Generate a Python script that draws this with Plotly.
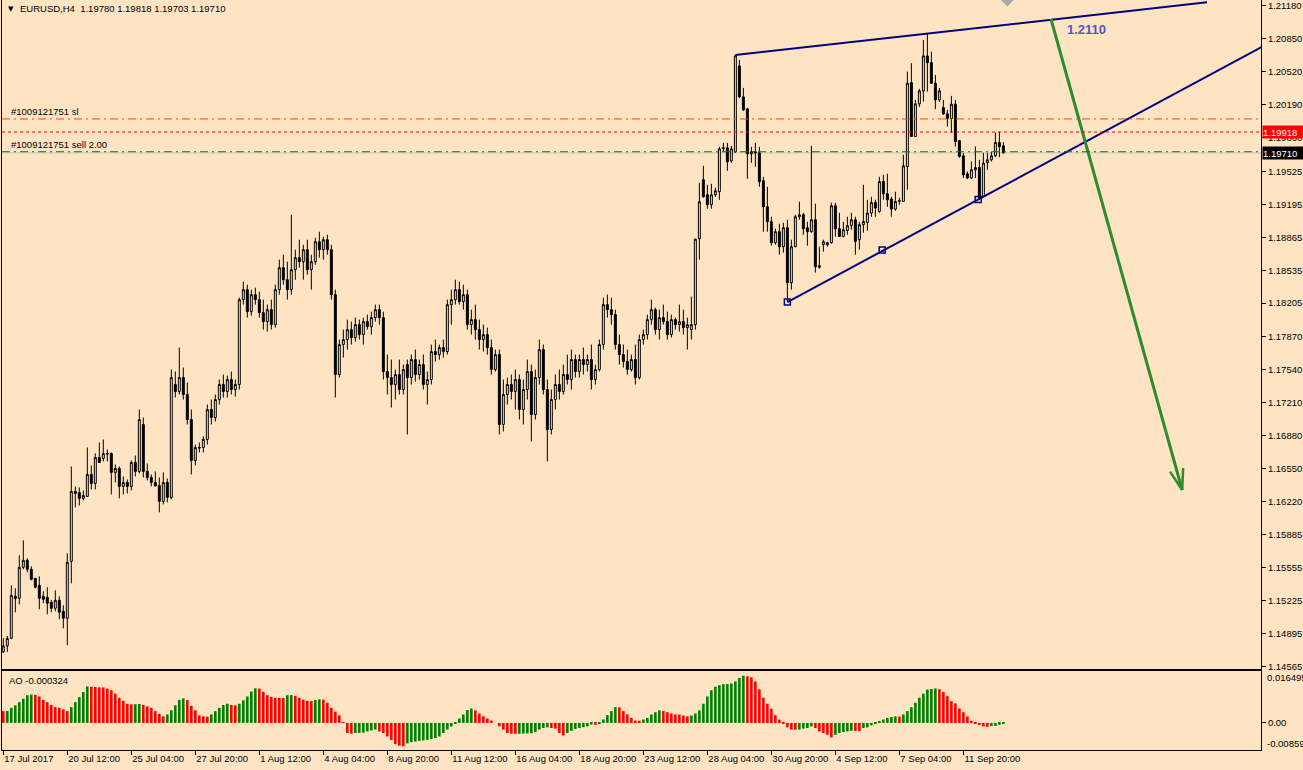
import math
import plotly.graph_objects as go

BG = "#FFE4C4"
FONT = "Liberation Sans"

# ---------------- data ----------------
bars = list(range(251))

open_ = [
1.14713,1.14773,1.14850,1.15270,1.15250,1.15560,1.15630,1.15540,1.15450,1.15380,
1.15270,1.15260,1.15210,1.15150,1.15230,1.15120,1.15050,1.15620,1.16320,1.16310,
1.16250,1.16270,1.16490,1.16400,1.16660,1.16650,1.16700,1.16700,1.16510,1.16550,
1.16370,1.16410,1.16370,1.16610,1.16520,1.16990,1.16520,1.16460,1.16410,1.16380,
1.16220,1.16410,1.16260,1.17390,1.17320,1.17460,1.17290,1.17040,1.16630,1.16760,
1.16760,1.16840,1.17140,1.17060,1.17240,1.17390,1.17320,1.17440,1.17340,1.17390,
1.18240,1.18340,1.18120,1.18290,1.18240,1.18110,1.18020,1.18140,1.17990,1.18340,
1.18560,1.18440,1.18340,1.18540,1.18660,1.18620,1.18740,1.18540,1.18620,1.18820,
1.18740,1.18840,1.18740,1.18290,1.17490,1.17790,1.17840,1.17940,1.17860,1.17990,
1.17890,1.18020,1.17970,1.18060,1.18140,1.18060,1.17520,1.17460,1.17390,1.17490,
1.17340,1.17590,1.17460,1.17640,1.17490,1.17590,1.17390,1.17440,1.17720,1.17690,
1.17760,1.17720,1.18190,1.18240,1.18340,1.18220,1.18290,1.17990,1.18040,1.17940,
1.17840,1.17890,1.17760,1.17540,1.17690,1.16990,1.17290,1.17390,1.17320,1.17440,
1.17140,1.17340,1.17520,1.17090,1.17460,1.17740,1.17340,1.16940,1.17240,1.17390,
1.17320,1.17490,1.17440,1.17640,1.17520,1.17640,1.17590,1.17640,1.17440,1.17540,
1.17790,1.18190,1.18140,1.18090,1.17790,1.17690,1.17620,1.17540,1.17640,1.17460,
1.17840,1.17890,1.18040,1.18140,1.17940,1.18060,1.18020,1.17890,1.18040,1.17990,
1.18020,1.17960,1.17940,1.17990,1.18850,1.19440,1.19290,1.19190,1.19290,1.19320,
1.19760,1.19760,1.19630,1.19720,1.20580,1.20270,1.20150,1.19700,1.19720,1.19710,
1.19430,1.19170,1.19020,1.18810,1.18920,1.18770,1.18960,1.18410,1.18770,1.19070,
1.19090,1.18960,1.18920,1.19040,1.18580,1.18790,1.18790,1.18810,1.19180,1.18950,
1.18873,1.18933,1.18980,1.19040,1.18840,1.18990,1.19013,1.19107,1.19213,1.19123,
1.19423,1.19300,1.19247,1.19147,1.19223,1.19223,1.19573,1.20413,1.19873,1.20200,
1.20330,1.20680,1.20613,1.20407,1.20240,1.20163,1.20100,1.20053,1.20197,1.19833,
1.19680,1.19500,1.19457,1.19540,1.19563,1.19273,1.19613,1.19640,1.19680,1.19813,
1.19780]

high = [
1.14850,1.14873,1.15380,1.15350,1.15680,1.15830,1.15650,1.15570,1.15453,1.15470,
1.15320,1.15360,1.15233,1.15330,1.15270,1.15180,1.15700,1.16570,1.16370,1.16360,
1.16330,1.16760,1.16580,1.16700,1.16810,1.16840,1.16740,1.16710,1.16590,1.16570,
1.16470,1.16440,1.16630,1.16680,1.17140,1.17060,1.16600,1.16490,1.16520,1.16460,
1.16510,1.16450,1.17540,1.17520,1.17760,1.17560,1.17410,1.17140,1.16790,1.16810,
1.16870,1.17190,1.17240,1.17290,1.17440,1.17490,1.17480,1.17520,1.17440,1.18260,
1.18420,1.18390,1.18340,1.18360,1.18320,1.18240,1.18190,1.18240,1.18390,1.18640,
1.18690,1.18620,1.19090,1.18740,1.18840,1.18790,1.18840,1.18690,1.18860,1.18920,
1.18870,1.18890,1.18790,1.18340,1.17840,1.17940,1.18040,1.18020,1.18060,1.18040,
1.18060,1.18090,1.18120,1.18190,1.18190,1.18120,1.17690,1.17640,1.17540,1.17640,
1.17590,1.17640,1.17690,1.17740,1.17640,1.17690,1.17520,1.17790,1.17840,1.17790,
1.17840,1.18240,1.18340,1.18440,1.18420,1.18390,1.18340,1.18140,1.18190,1.18040,
1.17990,1.17960,1.17840,1.17740,1.17740,1.17440,1.17460,1.17490,1.17540,1.17490,
1.17440,1.17640,1.17590,1.17540,1.17840,1.17790,1.17440,1.17340,1.17490,1.17540,
1.17590,1.17690,1.17740,1.17690,1.17690,1.17760,1.17690,1.17790,1.17590,1.17840,
1.18260,1.18290,1.18260,1.18140,1.17890,1.17790,1.17740,1.17690,1.17790,1.17890,
1.17940,1.18090,1.18240,1.18160,1.18140,1.18190,1.18120,1.18090,1.18060,1.18190,
1.18140,1.18060,1.18270,1.18850,1.19410,1.19580,1.19390,1.19400,1.19360,1.19770,
1.19810,1.19810,1.19780,1.20690,1.20640,1.20360,1.20160,1.19770,1.19810,1.19770,
1.19470,1.19370,1.19070,1.18950,1.19000,1.19010,1.19040,1.18840,1.19090,1.19220,
1.19110,1.19020,1.19780,1.19200,1.18770,1.18840,1.18820,1.19210,1.19210,1.19110,
1.19020,1.19070,1.19110,1.19070,1.19020,1.19390,1.19240,1.19270,1.19240,1.19470,
1.19490,1.19500,1.19270,1.19320,1.19260,1.19690,1.20523,1.20607,1.20240,1.20350,
1.20840,1.20907,1.20723,1.20490,1.20360,1.20240,1.20140,1.20280,1.20240,1.19840,
1.19707,1.19523,1.19623,1.19773,1.19640,1.19710,1.19710,1.19723,1.19913,1.19923,
1.19818]

low = [
1.14705,1.14713,1.14840,1.15110,1.15190,1.15540,1.15510,1.15430,1.15350,1.15140,
1.15200,1.15090,1.15110,1.15120,1.15040,1.14950,1.14780,1.15400,1.16160,1.16180,
1.16230,1.16265,1.16340,1.16340,1.16605,1.16620,1.16620,1.16290,1.16410,1.16250,
1.16290,1.16300,1.16330,1.16470,1.16500,1.16460,1.16430,1.16370,1.16370,1.16110,
1.16190,1.16210,1.16240,1.17260,1.17290,1.17240,1.16990,1.16490,1.16580,1.16710,
1.16710,1.16790,1.16990,1.17020,1.17190,1.17260,1.17260,1.17290,1.17270,1.17340,
1.18190,1.18060,1.18080,1.18190,1.18060,1.17940,1.17920,1.17940,1.17960,1.18290,
1.18390,1.18240,1.18290,1.18440,1.18560,1.18440,1.18490,1.18340,1.18590,1.18660,
1.18640,1.18690,1.18240,1.17260,1.17460,1.17660,1.17740,1.17790,1.17820,1.17840,
1.17790,1.17940,1.17890,1.18020,1.17990,1.17440,1.17290,1.17160,1.17240,1.17290,
1.17290,1.16890,1.17390,1.17420,1.17440,1.17340,1.17190,1.17390,1.17620,1.17640,
1.17660,1.17690,1.17990,1.18190,1.18190,1.18140,1.17940,1.17890,1.17840,1.17740,
1.17720,1.17690,1.17490,1.17520,1.16890,1.16920,1.17190,1.17240,1.17140,1.17040,
1.16990,1.17240,1.16820,1.17040,1.17390,1.17290,1.16620,1.16890,1.17140,1.17240,
1.17290,1.17390,1.17340,1.17460,1.17460,1.17490,1.17520,1.17340,1.17390,1.17520,
1.17740,1.18060,1.17990,1.17740,1.17590,1.17560,1.17490,1.17520,1.17390,1.17440,
1.17790,1.17840,1.17990,1.17890,1.17840,1.17990,1.17840,1.17860,1.17940,1.17920,
1.17890,1.17740,1.17840,1.17940,1.18640,1.19260,1.19150,1.19150,1.19270,1.19240,
1.19720,1.19530,1.19610,1.19710,1.20260,1.20130,1.19450,1.19610,1.19570,1.19370,
1.18920,1.18920,1.18780,1.18790,1.18690,1.18710,1.18220,1.18340,1.18765,1.19040,
1.18890,1.18780,1.18910,1.18510,1.18550,1.18720,1.18770,1.18800,1.18870,1.18870,
1.18865,1.18890,1.18940,1.18690,1.18740,1.18910,1.18930,1.19070,1.19070,1.19110,
1.19240,1.19170,1.19070,1.19130,1.19190,1.19220,1.19340,1.19870,1.19870,1.20170,
1.20223,1.20323,1.20400,1.20147,1.20220,1.20090,1.19973,1.19910,1.19773,1.19660,
1.19457,1.19447,1.19447,1.19457,1.19240,1.19270,1.19540,1.19623,1.19667,1.19667,
1.19703]

close = [
1.14773,1.14847,1.15280,1.15247,1.15560,1.15630,1.15540,1.15440,1.15360,1.15250,
1.15240,1.15200,1.15150,1.15230,1.15110,1.15050,1.15610,1.16320,1.16300,1.16250,
1.16280,1.16490,1.16400,1.16660,1.16610,1.16700,1.16695,1.16510,1.16550,1.16370,
1.16410,1.16370,1.16610,1.16520,1.17040,1.16520,1.16460,1.16410,1.16375,1.16220,
1.16410,1.16260,1.17460,1.17320,1.17460,1.17290,1.17040,1.16630,1.16760,1.16755,
1.16840,1.17140,1.17060,1.17240,1.17390,1.17320,1.17440,1.17340,1.17390,1.18240,
1.18340,1.18120,1.18290,1.18240,1.18110,1.18020,1.18140,1.17990,1.18340,1.18560,
1.18440,1.18340,1.18540,1.18660,1.18620,1.18740,1.18540,1.18620,1.18820,1.18740,
1.18840,1.18740,1.18290,1.17490,1.17790,1.17840,1.17940,1.17860,1.17990,1.17890,
1.18020,1.17970,1.18060,1.18140,1.18060,1.17520,1.17460,1.17390,1.17490,1.17340,
1.17540,1.17460,1.17640,1.17490,1.17590,1.17390,1.17440,1.17720,1.17690,1.17760,
1.17720,1.18190,1.18240,1.18340,1.18220,1.18290,1.17990,1.18040,1.17940,1.17840,
1.17890,1.17760,1.17540,1.17690,1.16990,1.17290,1.17390,1.17320,1.17440,1.17140,
1.17340,1.17520,1.17090,1.17460,1.17740,1.17340,1.16940,1.17240,1.17390,1.17320,
1.17490,1.17440,1.17640,1.17520,1.17640,1.17590,1.17640,1.17440,1.17540,1.17790,
1.18190,1.18140,1.18090,1.17790,1.17690,1.17620,1.17540,1.17640,1.17460,1.17840,
1.17890,1.18040,1.18140,1.17940,1.18060,1.18020,1.17890,1.18040,1.17990,1.18020,
1.17960,1.17990,1.17990,1.18845,1.19220,1.19270,1.19190,1.19290,1.19330,1.19750,
1.19755,1.19620,1.19750,1.20680,1.20270,1.20140,1.19700,1.19720,1.19710,1.19420,
1.19170,1.19020,1.18810,1.18920,1.18770,1.18960,1.18410,1.18770,1.19070,1.19090,
1.18950,1.18920,1.19040,1.18570,1.18565,1.18820,1.18810,1.19180,1.18950,1.18873,
1.18940,1.18980,1.19040,1.18823,1.18990,1.19023,1.19107,1.19213,1.19157,1.19423,
1.19300,1.19240,1.19147,1.19223,1.19230,1.19580,1.20407,1.19873,1.20200,1.20330,
1.20680,1.20613,1.20407,1.20240,1.20330,1.20100,1.20053,1.20197,1.19823,1.19673,
1.19490,1.19457,1.19540,1.19563,1.19257,1.19607,1.19640,1.19680,1.19813,1.19773,
1.19710]

# Awesome Oscillator, in units of 1e-4
ao_e4 = [
37.5,38,48,56,66,77,88,90,89,84,
73,66,57,50,48,43,37.5,50,66,82,
98,116,115,114,113,112.6,109,104,93,80,
70,61,59,59.5,60,57,52.5,48,37.5,29,
21,27,40,56,73,78,73,54,40,24,
21,20,27,37.5,48,57,61,57,56,61,
72,84,100,110,109,99,88,82.5,80,79.5,
79,88,88.5,86,80,74,70,69.5,73,75,
74,64,48,36,24,0.5,-32,-34,-32,-31.5,
-31,-27,-24,-21,-27,-32,-43,-54,-67.5,-72,
-74,-65,-61,-59,-57,-55.5,-54,-51,-48,-43,
-32,-21,-11,-3,14,27,41,46,40,30,
21,14,7.5,0,-11,-21,-32,-34,-34.5,-34.3,
-34,-33.5,-33,-29,-21,-16,-14,-16,-18,-32,
-40,-32,-25,-19,-16,-13.5,-11,-5,-6,-1,
10.7,25,37.5,50,49.5,37.5,27,16,7.5,7,
10.7,16,27,34,40,37.5,34,30,27,26.5,
23.5,21,23.5,30,40,61,84,104,115,120,
123,123.5,125.5,132,143,150,148,145,132,107,
80,61,45,24.5,10.7,-3,-14,-21,-21.5,-21,
-18,-16,-11,-16,-27,-32,-37.5,-46,-37.5,-32,
-29,-27,-25,-25.5,-26,-16,-14,-7.5,-3,5,
11,16,19,21,20,27,37.5,50,64,80,
93,106,108,109.5,107,98,85,69,62,46,
34,21,7,-2,-6.4,-11,-12,-10,-9.5,-6,
-3.24]

time_tick_bars = [0, 16, 32, 48, 64, 80, 96, 112, 128, 144, 160, 176, 192, 208, 224, 240]
time_tick_labels = ["17 Jul 2017", "20 Jul 12:00", "25 Jul 04:00", "27 Jul 20:00",
                    "1 Aug 12:00", "4 Aug 04:00", "8 Aug 20:00", "11 Aug 12:00",
                    "16 Aug 04:00", "18 Aug 20:00", "23 Aug 12:00", "28 Aug 04:00",
                    "30 Aug 20:00", "4 Sep 12:00", "7 Sep 04:00", "11 Sep 20:00"]
price_ticks = [1.21180, 1.20850, 1.20520, 1.20190, 1.19860, 1.19525, 1.19195, 1.18865,
               1.18535, 1.18205, 1.17870, 1.17540, 1.17210, 1.16880, 1.16550, 1.16220,
               1.15885, 1.15555, 1.15225, 1.14895, 1.14565]

ao_max_label = 0.016495
ao_min_label = -0.008594
ao_last = -0.000324

sl_price = 1.20049
dotted_price = 1.19918
sell_price = 1.19721
bid_price = 1.19710
header_ohlc = ["1.19780", "1.19818", "1.19703", "1.19710"]
order_id = "1009121751"

upper_line_x = [183, 300.9]
upper_line_p = [1.20689, 1.21217]
lower_pts_x = [196, 219.7, 243.7]
lower_pts_p = [1.18216, 1.18737, 1.19243]
arrow_tail = (261.9, 1.21050)
arrow_tip = (294.7, 1.16334)
target_label = "1.2110"
target_label_pos = (270.7, 1.20940)

# ---------------- layout constants ----------------
W, H = 1303, 770
ML, MR, MT, MB = 2, 42, 0, 20
plot_h = H - MT - MB
main_dom = [(750 - 669) / plot_h, 1.0]
ao_dom = [0.0, (750 - 671) / plot_h]
xr = [-0.325, 314.4]
yr = [1.14542, 1.21240]
y2r = [ao_min_label, ao_max_label]

ao = [v * 1e-4 for v in ao_e4]
ao_colors = ["#FF0000"] + ["#008000" if ao[i] > ao[i - 1] else "#FF0000" for i in range(1, len(ao))]

fig = go.Figure()

fig.add_trace(go.Candlestick(
    x=bars, open=open_, high=high, low=low, close=close,
    increasing=dict(line=dict(color="black", width=1), fillcolor=BG),
    decreasing=dict(line=dict(color="black", width=1), fillcolor="black"),
    whiskerwidth=0, xaxis="x", yaxis="y", showlegend=False, hoverinfo="skip"))

# trend lines
NAVY = "#000080"
fig.add_trace(go.Scatter(x=upper_line_x, y=upper_line_p, mode="lines",
                         line=dict(color=NAVY, width=2), xaxis="x", yaxis="y",
                         showlegend=False, hoverinfo="skip"))
slope = (lower_pts_p[-1] - lower_pts_p[0]) / (lower_pts_x[-1] - lower_pts_x[0])
ext_x = xr[1] + 2
fig.add_trace(go.Scatter(x=[lower_pts_x[0], ext_x],
                         y=[lower_pts_p[0], lower_pts_p[0] + slope * (ext_x - lower_pts_x[0])],
                         mode="lines", line=dict(color=NAVY, width=2), xaxis="x", yaxis="y",
                         showlegend=False, hoverinfo="skip"))
fig.add_trace(go.Scatter(x=lower_pts_x, y=lower_pts_p, mode="markers",
                         marker=dict(symbol="square-open", size=6, color=NAVY,
                                     line=dict(width=1.5, color=NAVY)),
                         xaxis="x", yaxis="y", showlegend=False, hoverinfo="skip"))

# green arrow
GREEN_ARROW = "#2E8B2E"
px_per_bar = (W - ML - MR) / (xr[1] - xr[0])
px_per_price = plot_h * (main_dom[1] - main_dom[0]) / (yr[1] - yr[0])
dxp = (arrow_tip[0] - arrow_tail[0]) * px_per_bar
dyp = -(arrow_tip[1] - arrow_tail[1]) * px_per_price
ln = math.hypot(dxp, dyp)
ux, uy = dxp / ln, dyp / ln
head_len, head_ang = 22, math.radians(18)
arms_x, arms_y = [], []
for s in (1, -1):
    c, sn = math.cos(s * head_ang), math.sin(s * head_ang)
    rx, ry = ux * c - uy * sn, ux * sn + uy * c
    ex = arrow_tip[0] - head_len * rx / px_per_bar
    ey = arrow_tip[1] + head_len * ry / px_per_price
    arms_x += [ex, arrow_tip[0], None]
    arms_y += [ey, arrow_tip[1], None]
fig.add_trace(go.Scatter(x=[arrow_tail[0], arrow_tip[0]], y=[arrow_tail[1], arrow_tip[1]],
                         mode="lines", line=dict(color=GREEN_ARROW, width=3),
                         xaxis="x", yaxis="y", showlegend=False, hoverinfo="skip"))
fig.add_trace(go.Scatter(x=arms_x, y=arms_y, mode="lines",
                         line=dict(color=GREEN_ARROW, width=2.5),
                         xaxis="x", yaxis="y", showlegend=False, hoverinfo="skip"))

# chart shift marker
fig.add_trace(go.Scatter(x=[251], y=[yr[1]], mode="markers",
                         marker=dict(symbol="diamond", size=10, color="#A9A9A9"),
                         xaxis="x", yaxis="y", showlegend=False, hoverinfo="skip"))

# AO histogram
fig.add_trace(go.Bar(x=bars, y=ao, marker=dict(color=ao_colors, line=dict(width=0)),
                     xaxis="x2", yaxis="y2", showlegend=False, hoverinfo="skip"))

DASHDOT = "8px,4px,2px,4px"
shapes = [
    dict(type="line", xref="paper", x0=0, x1=1, yref="y", y0=bid_price, y1=bid_price,
         line=dict(color="#C0C0C0", width=1), layer="below"),
    dict(type="line", xref="paper", x0=0, x1=1, yref="y", y0=sl_price, y1=sl_price,
         line=dict(color="#FF4500", width=1, dash=DASHDOT), layer="above"),
    dict(type="line", xref="paper", x0=0, x1=1, yref="y", y0=dotted_price, y1=dotted_price,
         line=dict(color="#FF0000", width=1, dash="3px,3px"), layer="above"),
    dict(type="line", xref="paper", x0=0, x1=1, yref="y", y0=sell_price, y1=sell_price,
         line=dict(color="#008000", width=1, dash=DASHDOT), layer="above"),
]

tf = dict(family=FONT, size=9.5, color="black")
annotations = [
    dict(xref="paper", yref="paper", x=0, y=1, xanchor="left", yanchor="top",
         xshift=4, yshift=-3, text="▼", showarrow=False, font=dict(family="DejaVu Sans", size=7, color="black")),
    dict(xref="paper", yref="paper", x=0, y=1, xanchor="left", yanchor="top",
         xshift=16, yshift=-1, showarrow=False, font=tf,
         text="EURUSD,H4  " + " ".join(header_ohlc)),
    dict(xref="paper", yref="y", x=0, y=sl_price, xanchor="left", yanchor="bottom",
         xshift=7, yshift=0, showarrow=False, font=tf, text="#" + order_id + " sl"),
    dict(xref="paper", yref="y", x=0, y=sell_price, xanchor="left", yanchor="bottom",
         xshift=7, yshift=0, showarrow=False, font=tf, text="#" + order_id + " sell 2.00"),
    dict(xref="x", yref="y", x=target_label_pos[0], y=target_label_pos[1], showarrow=False,
         text="<b>" + target_label + "</b>",
         font=dict(family=FONT, size=13, color="#5555C8")),
    dict(xref="paper", yref="y", x=1, y=dotted_price, xanchor="left", yanchor="middle",
         xshift=1, showarrow=False, text=f"{dotted_price:.5f}", bgcolor="#FF0000",
         font=dict(family=FONT, size=9.5, color="white"), width=40, height=12, borderpad=0,
         align="left"),
    dict(xref="paper", yref="y", x=1, y=bid_price, xanchor="left", yanchor="middle",
         xshift=1, showarrow=False, text=f"{bid_price:.5f}", bgcolor="#000000",
         font=dict(family=FONT, size=9.5, color="white"), width=40, height=12, borderpad=0,
         align="left"),
    dict(xref="paper", yref="paper", x=0, y=ao_dom[1], xanchor="left", yanchor="top",
         xshift=5, yshift=-2, showarrow=False, font=tf, text=f"AO {ao_last:.6f}"),
    dict(xref="paper", yref="y2", x=1, y=ao_max_label, xanchor="left", yanchor="top",
         xshift=4, yshift=1, showarrow=False, font=tf, text=f"{ao_max_label:.6f}"),
    dict(xref="paper", yref="y2", x=1, y=ao_min_label, xanchor="left", yanchor="bottom",
         xshift=4, yshift=-1, showarrow=False, font=tf, text=f"{ao_min_label:.6f}"),
]

axis_common = dict(showgrid=False, zeroline=False, showline=True, mirror=True,
                   linecolor="black", linewidth=1, tickcolor="black", tickfont=tf,
                   automargin=False, fixedrange=True)

fig.update_layout(
    template="none",
    width=W, height=H,
    margin=dict(l=ML, r=MR, t=MT, b=MB, pad=0),
    paper_bgcolor=BG, plot_bgcolor=BG,
    showlegend=False,
    bargap=0.35,
    shapes=shapes,
    annotations=annotations,
    xaxis=dict(domain=[0, 1], anchor="y", range=xr, showticklabels=False, ticks="",
               rangeslider=dict(visible=False), **axis_common),
    yaxis=dict(domain=main_dom, anchor="x", side="right", range=yr,
               tickmode="array", tickvals=price_ticks,
               ticktext=[f"{v:.5f}" for v in price_ticks],
               ticks="outside", ticklen=4, **axis_common),
    xaxis2=dict(domain=[0, 1], anchor="y2", matches="x", range=xr,
                tickmode="array", tickvals=time_tick_bars, ticktext=time_tick_labels,
                ticks="outside", ticklen=4, ticklabelposition="outside right",
                tickangle=0, **axis_common),
    yaxis2=dict(domain=ao_dom, anchor="x2", side="right", range=y2r,
                tickmode="array", tickvals=[0], ticktext=["0.00"],
                ticks="outside", ticklen=4, **axis_common),
)

fig.write_html("out.html", config={"displayModeBar": False},
               post_script="document.body.style.margin='0px';document.body.style.overflow='hidden';")
